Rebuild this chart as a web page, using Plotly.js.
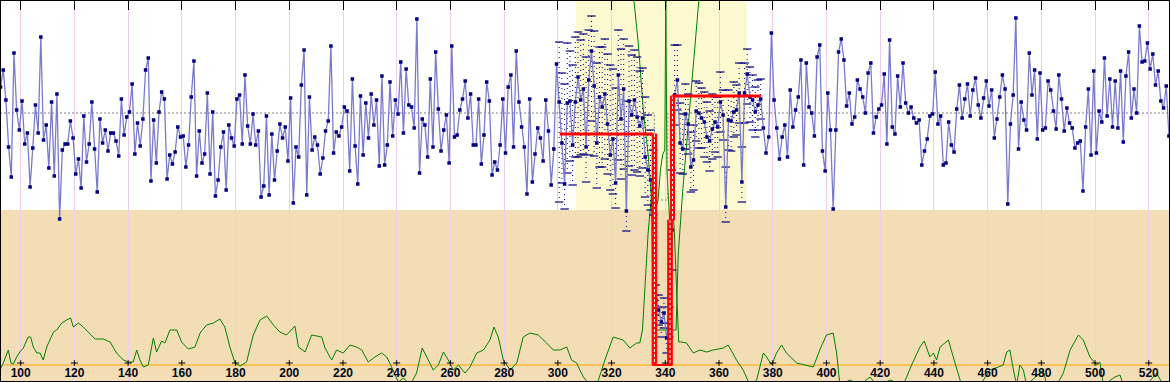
<!DOCTYPE html>
<html><head><meta charset="utf-8">
<script src="https://cdn.plot.ly/plotly-3.0.1.min.js"></script>
<style>html,body{margin:0;padding:0;background:#fff}#chart{width:1170px;height:382px}</style>
</head><body><div id="chart"></div>
<script>
// x of the first sample, one sample per unit
const xStart = 92.5;
// main series (depth-like units, axis reversed)
const seriesA = [87,70,100,147,177,53,110,130,101,144,133,187,148,105,133,37,140,125,168,102,176,94,219,150,144,144,121,138,174,159,188,116,162,144,102,149,192,119,143,130,151,133,133,141,156,99,135,117,112,84,154,123,146,119,70,58,181,120,163,112,92,99,179,155,164,152,127,137,136,167,145,97,61,176,131,163,154,93,174,112,196,180,147,132,190,125,138,146,99,95,144,75,126,144,114,145,131,197,186,116,195,134,180,151,124,138,127,161,
98,203,147,157,85,50,195,97,150,137,145,174,158,131,121,46,153,132,136,127,107,111,171,79,146,184,96,155,103,138,94,125,100,166,76,165,145,82,136,100,114,62,133,69,105,107,128,19,173,119,125,157,79,147,52,109,151,130,115,163,46,137,135,110,99,81,118,94,145,145,99,164,135,82,101,175,162,170,145,99,153,87,75,147,51,102,127,147,194,99,182,154,128,138,161,100,131,185,149,64,
102,143,184,103,101,145,102,77,100,89,147,80,51,86,143,97,107,94,124,155,139,183,75,119,89,211,101,115,100,117,126,118,157,170,180,190,300,310,322,313,338,322,230,95,80,143,149,114,124,167,160,111,113,118,122,137,141,129,122,127,102,115,207,120,121,112,110,93,182,93,74,97,100,112,105,99,128,153,137,
33,100,128,159,137,125,157,90,127,110,97,60,165,63,107,113,136,57,45,151,171,93,130,209,130,52,39,60,106,93,124,117,80,89,97,113,73,63,
133,117,109,105,74,144,40,127,134,76,107,63,103,113,107,118,123,120,165,151,139,116,114,72,124,116,165,163,122,145,152,109,85,118,99,84,116,90,78,105,118,98,81,106,90,138,119,97,75,89,204,124,95,18,149,102,120,130,53,95,70,139,73,130,128,81,90,111,129,75,99,131,108,123,128,148,143,141,191,127,89,155,71,153,111,122,58,116,79,127,81,128,71,142,76,52,118,89,113,26,62,61,43,69,54,85,71,101,108,86,136];
// uncertainty for the samples of the analysed window
const errFirst = 208;
const errAbove = [60,70,100,60,50,80,65,45,60,55,90,50,35,55,80,50,60,55,70,90,70,95,45,70,50,110,55,60,50,60,55,50,60,55,50,40,15,15,15,15,15,15,60,50,35,40,35,30,30,35,35,30,30,30,30,35,30,35,25,30,30,25,40,30,25,30,25,30,35,30,25,30,25,25,25,20];
const errBelow = [100,40,25,70,60,40,55,80,55,65,35,75,70,70,45,70,60,65,50,35,55,25,85,60,80,20,65,60,70,55,50,50,40,35,30,25,15,15,15,15,15,15,40,30,30,30,25,35,30,25,30,30,35,30,35,25,30,30,30,30,30,25,15,30,30,25,25,30,20,30,30,25,30,25,25,20];
// reference level (mean) and the dip segment level
const refX = [92.3, 335.9, 335.9, 340.9, 340.9, 527.9];
const refY = [113, 113, 200, 200, 113, 113];
// fitted step (segment means)
const stepLeftX = [300.7, 335.3];
const stepLeftY = [134, 134];
const stepRightX = [342.6, 375.6];
const stepRightY = [96, 96];
// change-point confidence boxes [x0, x1, yTop, yBottom]
const boxLeft = [335.1, 336.8, 134, 365];
const boxRightLow = [340.9, 342.6, 220, 365];
const boxRightHigh = [341.9, 343.4, 96, 220];
// detection statistic (green)
const statX = [92.3,93.5,95.4,96.4,97.3,98.5,99.7,101,102.8,103.7,104.7,106,107.2,108.4,109.7,110.9,112.2,113.4,115.3,117.1,118.6,119.6,121.5,123.3,125.2,127.7,130.8,133.3,135.7,138.2,140.1,141.9,143.2,144.4,145.7,147.5,149.4,150.6,152.5,153.7,155.6,158.1,159.9,162.4,164.9,166.8,169.2,171.7,174.2,176,177.9,179.8,181.7,184.1,186.6,189.1,191.6,194.1,196.5,199,202.1,203.4,205.9,208.3,212.1,213.3,215.8,217.6,220.1,222.6,225.1,227,229.4,231.9,234.4,236.3,238.1,240.6,242.5,245,247.4,249.5,251.2,253.6,255.5,257.4,259.2,261.1,263,265.4,267.3,269.8,272.3,274.7,276.2,277.8,279.7,282.2,284.7,287.1,289.6,292.7,295.8,298.3,300.8,303.3,305.1,307,308.2,309.5,311.9,314.5,317.5,320.6,324.3,326.8,329.3,330.5,331.5,332.4,333.6,334.7,335.4,336.3,337.3,338.2,339.0,339.8,340.0,340.2,340.6,341.0,341.8,342.6,343.4,344.2,345.0,346,347.9,350.4,352.9,355.4,357.8,361.6,363.4,366.5,369,371.5,374,376.5,377.7,379.6,381.4,383.3,385.1,388.9,392.6,395.1,397.5,400,402.5,403.8,405,408.7,412.5,416.2,418.7,419.9,423.7,428.6,431.7,434.8,436.4,438.5,439.8,441,442.3,445.4,447.2,448.5,450.3,457.2,460.9,464,465.8,467.1,468.3,469.6,470.8,472,473.3,474.5,480.7,482,485.7,488.2,490.7,493.8,495.6,498.1,500.6,501.8,503.1,507.4,509.3,510.5,519.2,522.9,525.4,527.9];
const statY = [370,363,350,363,364,357,352,348,337,337,347,353,353,360,347,340,332,330,323,320,318,327,323,327,332,339,339,342,353,360,362,362,350,360,367,365,338,352,341,343,330,330,342,349,347,333,325,323,319,327,347,363,366,362,335,320,316,325,332,335,326,347,352,335,337,348,360,350,353,345,347,350,362,357,353,357,367,382,378,385,373,348,357,370,365,352,360,370,365,373,367,353,350,340,327,337,360,370,363,337,333,335,343,350,350,347,360,363,370,377,385,385,360,337,340,348,343,343,330,290,233,200,180,210,200,170,155,150,-10,-10,170,187,230,200,233,290,342,342,343,353,350,352,350,348,345,360,370,385,380,353,357,365,353,345,353,363,365,367,350,335,333,353,385,380,385,377,385,385,380,385,365,347,341,357,353,360,347,340,357,370,385,385,370,367,365,352,350,370,385,365,370,385,370,385,385,373,350,335,340,357,365,362,385,377,375,385,385,373,385,385];
// likelihood envelope (green V)
const envX = [328.0,328.3,330.0,331.8,333.7,334.9,335.3,335.6,344.0,344.5,344.8,346.5,348.6,350.5,352.5,352.8];
const envY = [-10,0,45,110,157,200,290,330,330,290,255,190,125,60,0,-10];
// shaded areas
const windowX = [306.7, 370.3];
const windowBottom = 210;
const lowZoneTop = 210;
const baseLineY = 365;
const tickVals = [100,120,140,160,180,200,220,240,260,280,300,320,340,360,380,400,420,440,460,480,500,520];

const xs = seriesA.map((v,i)=>xStart+i);
const ex = [], ey = [], capX = [], capY = [];
errAbove.forEach((a,j)=>{
  const i = errFirst + j, x = xs[i], v = seriesA[i];
  ex.push(x, x, null); ey.push(v - a, v + errBelow[j], null);
  capX.push(x, x); capY.push(v - a, v + errBelow[j]);
});
function rectPath(b){ return {x:[b[0],b[1],b[1],b[0],b[0]], y:[b[2],b[2],b[3],b[3],b[2]]}; }
function midLine(b){ const m=(b[0]+b[1])/2; return {x:[m,m], y:[b[2],b[3]]}; }

const traces = [];
traces.push({x:[92.3,527.9], y:[baseLineY,baseLineY], mode:'lines', line:{color:'#FFA500', width:1}, hoverinfo:'skip'});
traces.push({x:statX, y:statY, mode:'lines', line:{color:'#008000', width:1}, hoverinfo:'skip'});
traces.push({x:envX, y:envY, mode:'lines', line:{color:'#008000', width:1}, hoverinfo:'skip'});
traces.push({x:refX, y:refY, mode:'lines', line:{color:'#808080', width:1, dash:'2px,2px'}, hoverinfo:'skip'});
traces.push({x:ex, y:ey, mode:'lines', line:{color:'#000080', width:1, dash:'1px,4px'}, hoverinfo:'skip'});
traces.push({x:capX, y:capY, mode:'markers', marker:{symbol:'line-ew', size:6, line:{color:'#000080', width:1.2}}, hoverinfo:'skip'});
traces.push({x:xs, y:seriesA, mode:'lines+markers', line:{color:'#7B7BCB', width:1.3}, marker:{symbol:'square', size:3.5, color:'#000080'}, hoverinfo:'skip'});
[boxLeft, boxRightLow, boxRightHigh].forEach(b=>{
  const p = rectPath(b);
  traces.push({x:p.x, y:p.y, mode:'lines', fill:'toself', fillcolor:'#FF0000', line:{color:'#FF0000', width:1}, hoverinfo:'skip'});
  const m = midLine(b);
  traces.push({x:m.x, y:m.y, mode:'lines', line:{color:'#FFFFFF', width:1, dash:'3px,2px'}, hoverinfo:'skip'});
});
traces.push({x:[boxLeft[0], boxRightLow[1]], y:[baseLineY, baseLineY], mode:'lines', line:{color:'#FF0000', width:2}, hoverinfo:'skip'});
traces.push({x:stepLeftX, y:stepLeftY, mode:'lines', line:{color:'#FF0000', width:3}, hoverinfo:'skip'});
traces.push({x:stepRightX, y:stepRightY, mode:'lines', line:{color:'#FF0000', width:3}, hoverinfo:'skip'});
// small bottom tick marks
traces.push({x:tickVals, y:tickVals.map(()=>363), mode:'markers', marker:{symbol:'line-ns', size:4, line:{color:'#000000', width:1}}, hoverinfo:'skip'});
traces.push({x:tickVals, y:tickVals.map(()=>363), mode:'markers', marker:{symbol:'line-ew', size:5, line:{color:'#000000', width:1}}, hoverinfo:'skip'});

const layout = {
  width:1170, height:382, margin:{l:0,r:0,t:0,b:0},
  paper_bgcolor:'#FFFFFF', plot_bgcolor:'#FFFFFF', showlegend:false,
  xaxis:{range:[92.3,527.9], tickmode:'array', tickvals:tickVals, ticktext:tickVals.map(String),
    ticklabelposition:'inside', ticks:'', showgrid:true, gridcolor:'#EECDEE', gridwidth:1, zeroline:false,
    showline:false, tickfont:{family:'Liberation Sans, Arial, sans-serif', size:12, color:'#000814', weight:'bold'}},
  xaxis2:{range:[92.3,527.9], overlaying:'x', side:'top', tickmode:'array', tickvals:tickVals,
    showticklabels:false, ticks:'inside', ticklen:10, tickcolor:'#000000', tickwidth:1, showgrid:false, zeroline:false},
  yaxis:{range:[382,0], visible:false, showgrid:false, zeroline:false},
  shapes:[
    {type:'rect', xref:'x', yref:'y', x0:92.3, x1:527.9, y0:lowZoneTop, y1:382, fillcolor:'#F3DDB5', line:{width:0}, layer:'below'},
    {type:'rect', xref:'x', yref:'y', x0:windowX[0], x1:windowX[1], y0:0, y1:windowBottom, fillcolor:'#FCF8D0', line:{width:0}, layer:'below'},
    {type:'rect', xref:'paper', yref:'paper', x0:0, x1:1, y0:0, y1:1, line:{color:'#000000', width:2}, fillcolor:'rgba(0,0,0,0)'}
  ]
};
traces.push({x:[100], y:[0], xaxis:'x2', mode:'markers', marker:{opacity:0}, hoverinfo:'skip'});
Plotly.newPlot('chart', traces, layout, {staticPlot:true});
</script></body></html>
